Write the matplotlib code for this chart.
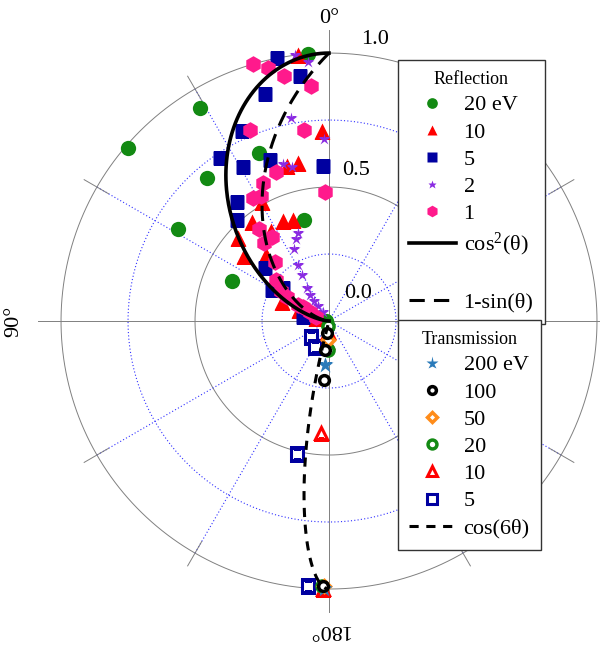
import numpy as np
import matplotlib
matplotlib.use("Agg")
import matplotlib.pyplot as plt
from matplotlib.lines import Line2D

plt.rcParams['font.family'] = ['Liberation Serif', 'DejaVu Serif']
plt.rcParams['mathtext.fontset'] = 'custom'
plt.rcParams['mathtext.rm'] = 'Liberation Serif'
plt.rcParams['mathtext.it'] = 'Liberation Serif:italic'

# reflection data (angle in degrees, normalised yield)
r20_th = [4.5, 31.3, 49.4, 22.6, 40.5, 58.5, 13.8, 67.6, 88]
r20_r = [1.0, 0.93, 0.99, 0.68, 0.70, 0.66, 0.39, 0.39, 0.01]

r10_th = [6.6, 2.1, 15.1, 11.1, 29.6, 24.7, 19.8, 37.9, 47.9, 52.5, 33.0, 44.0, 68, 69, 75]
r10_r = [1.0, 0.71, 0.60, 0.60, 0.51, 0.41, 0.40, 0.47, 0.46, 0.40, 0.40, 0.34, 0.19, 0.12, 0.05]

r5_th = [11.2, 6.7, 15.7, 24.7, 33.8, 29.2, 20.1, 2.2, 37.7, 42.3, 50.4, 61.5, 54.3, 81]
r5_r = [1.0, 0.92, 0.88, 0.78, 0.73, 0.66, 0.64, 0.58, 0.56, 0.51, 0.31, 0.24, 0.21, 0.10]

r2_th = [7.3, 4.6, 10.6, 1.6, 16.4, 13.5, 19.4, 22.2, 25.9, 29.3, 30.8, 33.7, 36.0, 36.9, 36.0, 34.0]
r2_r = [1.0, 0.97, 0.77, 0.68, 0.61, 0.59, 0.35, 0.33, 0.30, 0.24, 0.20, 0.15, 0.12, 0.093, 0.07, 0.04]

r1_th = [16.5, 13.6, 10.4, 4.4, 22.5, 7.4, 19.4, 1.8, 25.6, 31.5, 28.4, 37.2, 34.2, 39.9,
         42.5, 51.7, 58, 60, 63.4, 61.7, 64.6, 71]
r1_r = [1.0, 0.97, 0.93, 0.88, 0.77, 0.72, 0.59, 0.48, 0.57, 0.54, 0.53, 0.43, 0.38, 0.38,
        0.30, 0.25, 0.21, 0.18, 0.13, 0.11, 0.078, 0.05]

# transmission data
t200_th = [175, 179]
t200_r = [0.165, 1.0]
t100_th = [170, 172, 175, 178.7]
t100_r = [0.045, 0.11, 0.22, 0.99]
t50_th = [177, 179]
t50_r = [0.07, 0.99]
t20_th = [178, 178.5, 170]
t20_r = [0.11, 0.99, 0.02]
t10_th = [176, 178.7, 172, 175]
t10_r = [0.42, 1.0, 0.04, 0.08]
t5_th = [166.4, 175.5, 130, 152]
t5_r = [0.51, 0.99, 0.09, 0.11]

fig = plt.figure(figsize=(6, 6.5), dpi=100)
ax = fig.add_axes([0.057, 0.0526, 0.9827, 0.907], projection='polar')
ax.set_theta_zero_location('N')
ax.set_theta_direction(1)
ax.set_rlim(0, 1.1)
ax.grid(False)
ax.set_xticks([])
ax.set_yticks([])
ax.spines['polar'].set_visible(False)

# hand-drawn grid
th = np.linspace(0, 2 * np.pi, 500)
for rr in [0.5, 1.0]:
    ax.plot(th, np.full_like(th, rr), color='#808080', lw=0.7, zorder=1)
for rr in [0.25, 0.75]:
    ax.plot(th, np.full_like(th, rr), color='#3030ff', lw=0.8, ls=(0, (1, 2)), zorder=1)
for a in [30, 60, 120, 150, 210, 240, 300, 330]:
    ax.plot([np.radians(a)] * 2, [0, 1.0], color='#3030ff', lw=0.8, ls=(0, (1, 2)), zorder=1)
    ax.plot([np.radians(a)] * 2, [0.95, 1.055], color='#808080', lw=0.7, zorder=1)
for a in [0, 90, 180, 270]:
    ax.plot([np.radians(a)] * 2, [0, 1.085], color='#808080', lw=0.7, zorder=1)

ax.text(np.radians(-9.3), 1.063, '1.0', fontsize=16, ha='center', va='center')
ax.text(np.radians(-10.1), 0.57, '0.5', fontsize=16, ha='center', va='center')
ax.text(np.radians(-46), 0.15, '0.0', fontsize=16, ha='center', va='center')
ax.text(0, 1.13, '0°', fontsize=16, ha='center', va='center')
ax.text(np.radians(90), 1.175, '90°', fontsize=16, ha='center', va='center', rotation=90)
ax.text(np.radians(180), 1.15, '180°', fontsize=16, ha='center', va='center', rotation=180)

rad = np.radians

# reflection markers
h20, = ax.plot(rad(r20_th), r20_r, 'o', color='#138a13', ms=11, mec='none', label='20 eV', zorder=3)
h10, = ax.plot(rad(r10_th), r10_r, '^', color='red', ms=11, mec='none', label='10', zorder=3)
h5, = ax.plot(rad(r5_th), r5_r, 's', color='#0000a0', ms=10, mec='none', label='5', zorder=3)
h2, = ax.plot(rad(r2_th), r2_r, '*', color='#8a2be2', ms=9, mec='none', label='2', zorder=3)
h1, = ax.plot(rad(r1_th), r1_r, 'h', color='#ff1a8c', ms=12, mec='none', label='1', zorder=3)

# theory curves
a1 = np.linspace(0, np.pi / 2, 200)
hc2, = ax.plot(a1, np.cos(a1) ** 2, color='black', lw=2.6, label=r'cos$^{2}$(θ)', zorder=4)
hs, = ax.plot(a1, 1 - np.sin(a1), color='black', lw=2.2, ls=(0, (5, 3)), label='1-sin(θ)', zorder=4)

# transmission markers
ht5, = ax.plot(rad(t5_th), t5_r, 's', mfc='white', mec='#0000a0', mew=2.2, ms=9, label='5', zorder=3)
ht10, = ax.plot(rad(t10_th), t10_r, '^', mfc='white', mec='red', mew=2.2, ms=9, label='10', zorder=3)
ht20, = ax.plot(rad(t20_th), t20_r, 'o', mfc='white', mec='#138a13', mew=2.5, ms=8, label='20', zorder=3)
ht50, = ax.plot(rad(t50_th), t50_r, 'D', mfc='white', mec='#ff8c1a', mew=2.5, ms=6, label='50', zorder=3)
ht200, = ax.plot(rad(t200_th), t200_r, '*', color='#2a7ab9', ms=12, mec='none', label='200 eV', zorder=3)
ht100, = ax.plot(rad(t100_th), t100_r, 'o', mfc='white', mec='black', mew=2.5, ms=7, label='100', zorder=3)

a2 = np.linspace(np.radians(165), np.pi, 100)
hc6, = ax.plot(a2, np.cos(6 * a2), color='black', lw=2.2, ls=(0, (3, 2.5)), label='cos(6θ)', zorder=4)

# empty row that opens the gap above 1-sin(θ) in the legend
gap = Line2D([], [], color='none', label=' ')

leg_kw = dict(loc='upper left', bbox_transform=fig.transFigure, fancybox=False,
              framealpha=1, edgecolor='#333333', fontsize=16, handlelength=2.1,
              handletextpad=0.35, borderpad=0.5, borderaxespad=0, labelspacing=0.3,
              title_fontproperties={'size': 13})
leg1 = ax.legend(handles=[h20, h10, h5, h2, h1, hc2, gap, hs], title='Reflection',
                 bbox_to_anchor=(398 / 600, 1 - 60 / 650), markerscale=0.7, **leg_kw)
leg1.get_frame().set_linewidth(1.0)
ax.add_artist(leg1)
leg2 = ax.legend(handles=[ht200, ht100, ht50, ht20, ht10, ht5, hc6], title='Transmission',
                 bbox_to_anchor=(398 / 600, 1 - 320 / 650), markerscale=0.8, **leg_kw)
leg2.get_frame().set_linewidth(1.0)
leg1.set_zorder(10)
leg2.set_zorder(10)

fig.savefig('out.png', dpi=100)
